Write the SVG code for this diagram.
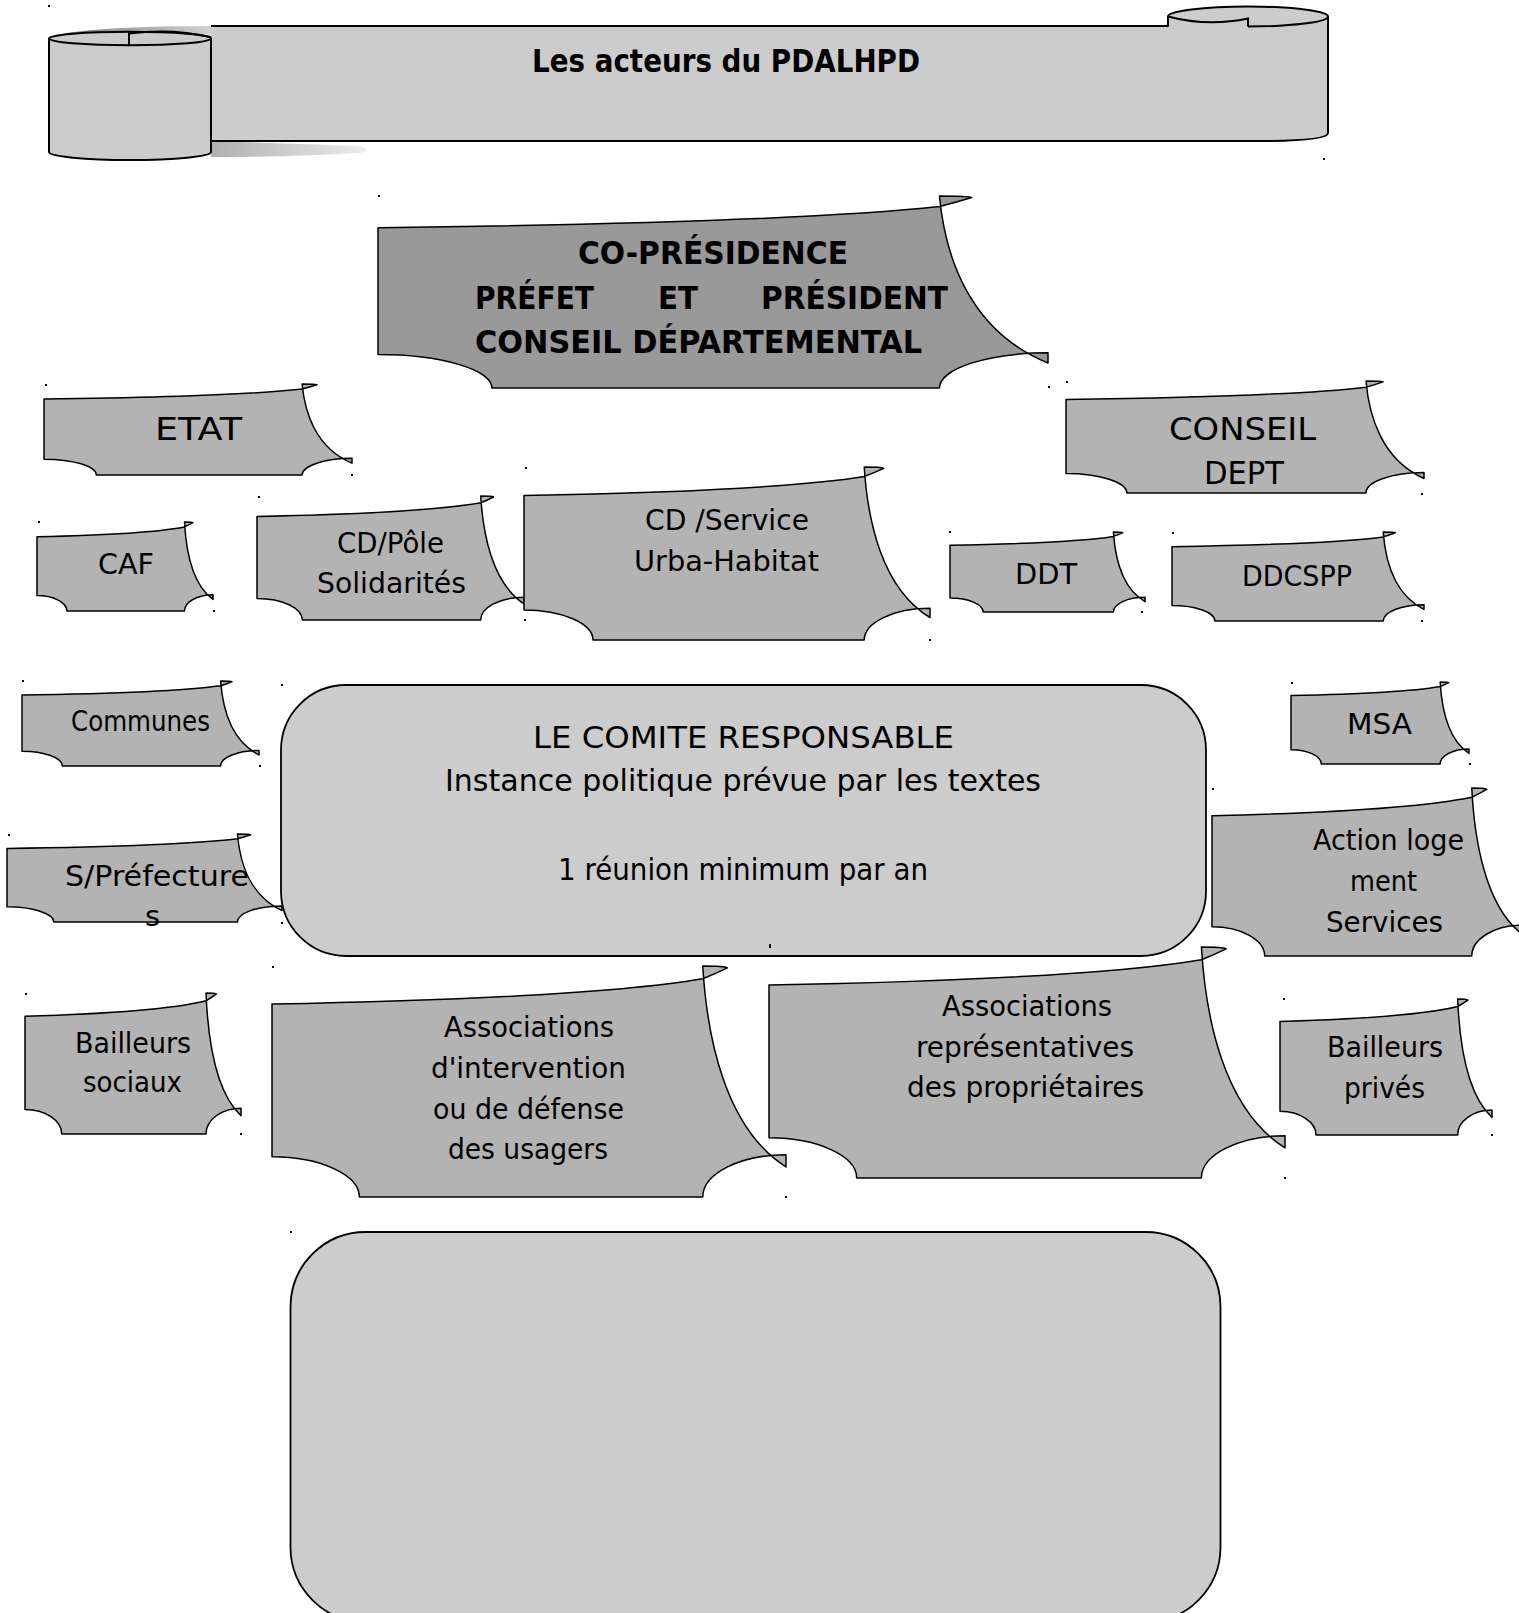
<svg xmlns="http://www.w3.org/2000/svg" width="1519" height="1613" viewBox="0 0 1519 1613">
<defs>
<style>
.t{font-family:'DejaVu Sans','Liberation Sans',sans-serif;font-size:29px;fill:#000}
.b{font-weight:bold}
.big{font-size:32px}
.cm{font-size:31px}
.w{fill:#b3b3b3;stroke:#000;stroke-width:1.5;stroke-linejoin:round}
.wd{fill:#999;stroke:#000;stroke-width:1.5;stroke-linejoin:round}
.rr{fill:#ccc;stroke:#000;stroke-width:1.8}
.bn{fill:#ccc;stroke:#000;stroke-width:2;stroke-linejoin:round}
.ln{fill:none;stroke:#000;stroke-width:2}
.dot{fill:#000}
</style>
<path id="wave" vector-effect="non-scaling-stroke" d="M0,165 C350,150 680,115 838,55 Q864,32 886,8 Q880,0 838,0 C846,300 880,700 1000,870 L1000,817 A162,183 0 0 0 838,1000 L170,1000 A170,174 0 0 0 0,826 Z"/>
<linearGradient id="shadowG" x1="0" y1="0" x2="1" y2="0">
<stop offset="0" stop-color="#b0b0b0"/>
<stop offset="1" stop-color="#ececec"/>
</linearGradient>
<linearGradient id="topG" x1="0" y1="0" x2="1" y2="0">
<stop offset="0" stop-color="#777"/>
<stop offset="1" stop-color="#ddd"/>
</linearGradient>
</defs>

<g id="banner">
<path d="M211,141 L360,146 Q373,150 360,153 Q290,157 211,157 Z" fill="url(#shadowG)"/>
<path d="M49,38 C70,29 130,26 232,26 L232,34 L49,38 Z" fill="url(#topG)"/>
<path class="bn" d="M211,26 L1168,26 L1168,16.5 A80,10 0 0 1 1328,16.5 L1328,133 Q1328,141 1258,141 L211,141"/>
<path class="ln" d="M1328,16.5 A80,10 0 0 1 1248,26.5 M1168,16.5 Q1208,27 1248,18.5 L1248,26.5"/>
<path class="bn" d="M49,38.5 L49,152 A81,8 0 0 0 211,152 L211,38.5 Z"/>
<ellipse class="bn" cx="130" cy="38.5" rx="81" ry="6.8"/>
<path class="ln" d="M129,45 L129,33.5 Q172,28 211,37"/>
<text class="t b big" x="532" y="72" textLength="388" lengthAdjust="spacingAndGlyphs">Les acteurs du PDALHPD</text>
</g>

<g id="copresidence">
<use href="#wave" class="wd" transform="translate(378,196) scale(0.670,0.192)"/>
<text class="t b big" x="578" y="264" textLength="270" lengthAdjust="spacingAndGlyphs">CO-PRÉSIDENCE</text>
<text class="t b big" x="475" y="309" textLength="119" lengthAdjust="spacingAndGlyphs">PRÉFET</text>
<text class="t b big" x="658" y="309" textLength="40" lengthAdjust="spacingAndGlyphs">ET</text>
<text class="t b big" x="761" y="309" textLength="187" lengthAdjust="spacingAndGlyphs">PRÉSIDENT</text>
<text class="t b big" x="475" y="353" textLength="447" lengthAdjust="spacingAndGlyphs">CONSEIL DÉPARTEMENTAL</text>
</g>

<g id="etat">
<use href="#wave" class="w" transform="translate(44,384) scale(0.308,0.091)"/>
<text class="t big" x="155" y="440" textLength="87" lengthAdjust="spacingAndGlyphs">ETAT</text>
</g>

<g id="conseil-dept">
<use href="#wave" class="w" transform="translate(1066,381) scale(0.358,0.112)"/>
<text class="t big" x="1169" y="440" textLength="147" lengthAdjust="spacingAndGlyphs">CONSEIL</text>
<text class="t big" x="1204" y="484" textLength="80" lengthAdjust="spacingAndGlyphs">DEPT</text>
</g>

<g id="caf">
<use href="#wave" class="w" transform="translate(37,522) scale(0.176,0.089)"/>
<text class="t" x="98" y="574" textLength="56" lengthAdjust="spacingAndGlyphs">CAF</text>
</g>

<g id="cd-pole">
<use href="#wave" class="w" transform="translate(257,496) scale(0.267,0.124)"/>
<text class="t" x="337" y="553" textLength="107" lengthAdjust="spacingAndGlyphs">CD/Pôle</text>
<text class="t" x="317" y="593" textLength="149" lengthAdjust="spacingAndGlyphs">Solidarités</text>
</g>

<g id="cd-service">
<use href="#wave" class="w" transform="translate(524,467) scale(0.406,0.173)"/>
<text class="t" x="645" y="530" textLength="164" lengthAdjust="spacingAndGlyphs">CD /Service</text>
<text class="t" x="634" y="571" textLength="185" lengthAdjust="spacingAndGlyphs">Urba-Habitat</text>
</g>

<g id="ddt">
<use href="#wave" class="w" transform="translate(950,532) scale(0.195,0.080)"/>
<text class="t" x="1015" y="584" textLength="62" lengthAdjust="spacingAndGlyphs">DDT</text>
</g>

<g id="ddcspp">
<use href="#wave" class="w" transform="translate(1172,532) scale(0.252,0.089)"/>
<text class="t" x="1242" y="586" textLength="110" lengthAdjust="spacingAndGlyphs">DDCSPP</text>
</g>

<g id="communes">
<use href="#wave" class="w" transform="translate(22,681) scale(0.237,0.085)"/>
<text class="t" x="71" y="731" textLength="139" lengthAdjust="spacingAndGlyphs">Communes</text>
</g>

<g id="comite">
<rect class="rr" x="281" y="685" width="925" height="271" rx="65" ry="65"/>
<text class="t cm" x="533" y="748" textLength="421" lengthAdjust="spacingAndGlyphs">LE COMITE RESPONSABLE</text>
<text class="t cm" x="445" y="791" textLength="596" lengthAdjust="spacingAndGlyphs">Instance politique prévue par les textes</text>
<text class="t cm" x="558" y="880" textLength="370" lengthAdjust="spacingAndGlyphs">1 réunion minimum par an</text>
</g>

<g id="sous-prefectures">
<use href="#wave" class="w" transform="translate(7,834) scale(0.275,0.088)"/>
<text class="t" x="65" y="886" textLength="184" lengthAdjust="spacingAndGlyphs">S/Préfecture</text>
<text class="t" x="145" y="926">s</text>
</g>

<g id="msa">
<use href="#wave" class="w" transform="translate(1291,682) scale(0.178,0.082)"/>
<text class="t" x="1347" y="734" textLength="65" lengthAdjust="spacingAndGlyphs">MSA</text>
</g>

<g id="action-logement">
<use href="#wave" class="w" transform="translate(1212,788) scale(0.310,0.168)"/>
<text class="t" x="1313" y="850" textLength="151" lengthAdjust="spacingAndGlyphs">Action loge</text>
<text class="t" x="1350" y="891" textLength="67" lengthAdjust="spacingAndGlyphs">ment</text>
<text class="t" x="1326" y="932" textLength="117" lengthAdjust="spacingAndGlyphs">Services</text>
</g>

<g id="bailleurs-sociaux">
<use href="#wave" class="w" transform="translate(25,993) scale(0.216,0.141)"/>
<text class="t" x="75" y="1053" textLength="116" lengthAdjust="spacingAndGlyphs">Bailleurs</text>
<text class="t" x="83" y="1092" textLength="99" lengthAdjust="spacingAndGlyphs">sociaux</text>
</g>

<g id="assoc-intervention">
<use href="#wave" class="w" transform="translate(272,966) scale(0.514,0.231)"/>
<text class="t" x="444" y="1037" textLength="170" lengthAdjust="spacingAndGlyphs">Associations</text>
<text class="t" x="431" y="1078" textLength="195" lengthAdjust="spacingAndGlyphs">d'intervention</text>
<text class="t" x="433" y="1119" textLength="191" lengthAdjust="spacingAndGlyphs">ou de défense</text>
<text class="t" x="448" y="1159" textLength="160" lengthAdjust="spacingAndGlyphs">des usagers</text>
</g>

<g id="assoc-proprietaires">
<use href="#wave" class="w" transform="translate(769,947) scale(0.516,0.231)"/>
<text class="t" x="942" y="1016" textLength="170" lengthAdjust="spacingAndGlyphs">Associations</text>
<text class="t" x="916" y="1057" textLength="218" lengthAdjust="spacingAndGlyphs">représentatives</text>
<text class="t" x="907" y="1097" textLength="237" lengthAdjust="spacingAndGlyphs">des propriétaires</text>
</g>

<g id="bailleurs-prives">
<use href="#wave" class="w" transform="translate(1280,999) scale(0.212,0.136)"/>
<text class="t" x="1327" y="1057" textLength="116" lengthAdjust="spacingAndGlyphs">Bailleurs</text>
<text class="t" x="1344" y="1098" textLength="81" lengthAdjust="spacingAndGlyphs">privés</text>
</g>

<g id="bottom-box">
<rect class="rr" x="290.5" y="1232" width="930" height="390" rx="75" ry="75"/>
</g>

<g id="connectors"></g>

<g id="dots">
<rect class="dot" x="48" y="5" width="2" height="2"/>
<rect class="dot" x="1323" y="158" width="2" height="2"/>
<rect class="dot" x="378" y="195" width="2" height="2"/>
<rect class="dot" x="1048" y="386" width="2" height="2"/>
<rect class="dot" x="45" y="384" width="2" height="2"/>
<rect class="dot" x="351" y="474" width="2" height="2"/>
<rect class="dot" x="1066" y="381" width="2" height="2"/>
<rect class="dot" x="1421" y="493" width="2" height="2"/>
<rect class="dot" x="38" y="521" width="2" height="2"/>
<rect class="dot" x="213" y="610" width="2" height="2"/>
<rect class="dot" x="258" y="496" width="2" height="2"/>
<rect class="dot" x="524" y="619" width="2" height="2"/>
<rect class="dot" x="525" y="467" width="2" height="2"/>
<rect class="dot" x="929" y="639" width="2" height="2"/>
<rect class="dot" x="949" y="531" width="2" height="2"/>
<rect class="dot" x="1141" y="611" width="2" height="2"/>
<rect class="dot" x="1172" y="532" width="2" height="2"/>
<rect class="dot" x="1421" y="620" width="2" height="2"/>
<rect class="dot" x="22" y="680" width="2" height="2"/>
<rect class="dot" x="259" y="765" width="2" height="2"/>
<rect class="dot" x="281" y="684" width="2" height="2"/>
<rect class="dot" x="769" y="944" width="2" height="2"/>
<rect class="dot" x="8" y="834" width="2" height="2"/>
<rect class="dot" x="281" y="922" width="2" height="2"/>
<rect class="dot" x="1291" y="682" width="2" height="2"/>
<rect class="dot" x="1469" y="763" width="2" height="2"/>
<rect class="dot" x="1212" y="788" width="2" height="2"/>
<rect class="dot" x="25" y="993" width="2" height="2"/>
<rect class="dot" x="240" y="1133" width="2" height="2"/>
<rect class="dot" x="272" y="966" width="2" height="2"/>
<rect class="dot" x="785" y="1196" width="2" height="2"/>
<rect class="dot" x="769" y="946" width="2" height="2"/>
<rect class="dot" x="1284" y="1177" width="2" height="2"/>
<rect class="dot" x="1283" y="998" width="2" height="2"/>
<rect class="dot" x="1491" y="1134" width="2" height="2"/>
<rect class="dot" x="290" y="1231" width="2" height="2"/>
</g>
</svg>
